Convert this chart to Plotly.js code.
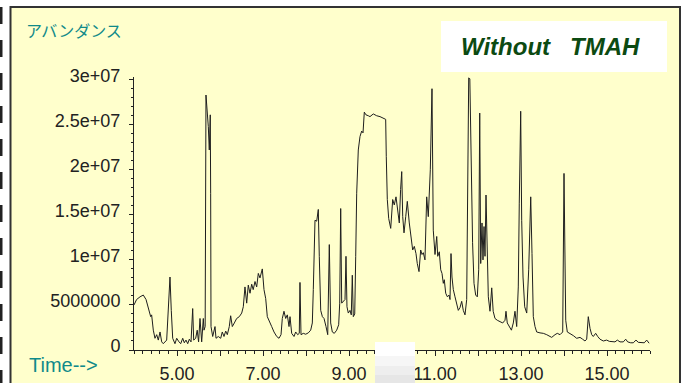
<!DOCTYPE html>
<html><head><meta charset="utf-8">
<script src="https://cdn.plot.ly/plotly-3.0.1.min.js"></script>
<style>html,body{margin:0;padding:0;background:#fff;}#chart{width:685px;height:383px;}</style>
</head><body><div id="chart"></div>
<script>
const retentionTime = [
4.00,4.06,4.14,4.216,4.28,4.333,4.388,4.41,4.449,4.488,4.528,4.565,4.605,4.644,4.681,4.76,4.795,4.837,4.867,4.90,
4.953,4.993,5.047,5.086,5.133,5.17,5.209,5.249,5.286,5.326,5.365,5.388,5.435,5.47,5.502,5.535,5.574,5.612,5.628,5.655,
5.674,5.705,5.728,5.751,5.774,5.783,5.791,5.83,5.86,5.884,5.907,5.96,6.016,6.053,6.093,6.133,6.17,6.216,6.248,6.286,
6.333,6.388,6.449,6.505,6.542,6.581,6.621,6.658,6.698,6.737,6.772,6.814,6.853,6.891,6.93,6.984,7.023,7.063,7.10,7.147,
7.202,7.256,7.319,7.372,7.419,7.449,7.488,7.528,7.565,7.605,7.628,7.667,7.721,7.76,7.807,7.844,7.86,7.884,7.937,7.993,
8.053,8.109,8.147,8.17,8.209,8.249,8.265,8.286,8.309,8.342,8.381,8.419,8.465,8.505,8.542,8.574,8.612,8.658,8.714,8.76,
8.784,8.807,8.83,8.867,8.907,8.93,8.953,8.984,9.023,9.053,9.077,9.10,9.133,9.156,9.179,9.216,9.256,9.295,9.326,9.356,
9.395,9.449,9.488,9.565,9.644,9.721,9.798,9.853,9.867,9.891,9.923,9.97,10.016,10.053,10.093,10.133,10.17,10.2,10.226,10.249,
10.279,10.319,10.356,10.402,10.442,10.481,10.519,10.558,10.588,10.628,10.667,10.698,10.728,10.767,10.807,10.844,10.891,10.93,10.96,11.0,
11.04,11.063,11.1,11.133,11.163,11.193,11.216,11.249,11.288,11.326,11.349,11.372,11.395,11.426,11.465,11.505,11.542,11.581,11.621,11.658,
11.698,11.737,11.76,11.784,11.81,11.842,11.874,11.907,11.946,11.984,12.016,12.04,12.063,12.093,12.116,12.14,12.163,12.186,12.216,12.24,
12.279,12.319,12.353,12.395,12.449,12.512,12.574,12.628,12.651,12.681,12.728,12.777,12.821,12.86,12.9,12.937,12.96,12.993,13.016,13.047,
13.086,13.133,13.179,13.226,13.256,13.286,13.326,13.365,13.442,13.519,13.598,13.674,13.714,13.791,13.844,13.907,13.97,14.0,14.04,14.077,
14.14,14.216,14.295,14.372,14.433,14.488,14.528,14.565,14.605,14.644,14.681,14.737,14.784,14.837,14.914,14.993,15.053,15.109,15.186,15.24,
15.302,15.379,15.435,15.481,15.551,15.612,15.674,15.728,15.807,15.867,15.923,15.98
];
const abundanceMillions = [
5.0,5.6,5.9,6.1,5.6,4.6,3.7,3.9,2.2,1.3,1.7,1.1,2.0,0.9,0.7,1.1,4.4,8.1,4.4,1.3,
0.7,1.3,0.9,0.7,1.3,0.8,1.1,0.7,1.2,0.9,4.6,1.1,1.3,2.2,0.9,3.5,0.9,3.5,2.2,2.6,
28.3,26.7,24.8,22.2,26.1,17.4,2.6,1.5,2.0,2.6,1.3,1.5,1.3,2.0,1.5,2.1,1.7,2.6,3.8,2.6,
3.0,3.5,3.7,4.1,4.8,7.0,5.2,7.2,6.3,7.3,6.7,7.6,7.0,8.5,8.0,9.0,6.7,5.7,3.7,3.1,
2.6,2.0,1.5,1.3,1.7,3.5,4.3,3.5,3.9,2.6,3.7,1.85,1.5,2.0,1.7,1.85,7.5,1.7,1.85,1.75,
1.9,2.2,3.0,6.7,14.4,14.3,14.8,15.6,10.4,4.4,3.7,3.5,2.6,1.7,11.7,3.0,2.0,1.85,2.2,2.8,
5.2,15.7,5.2,5.4,5.6,10.4,4.8,4.1,4.4,3.9,8.3,3.7,4.0,10.4,17.4,22.2,23.7,24.3,24.1,26.4,
26.1,26.0,25.9,26.2,26.0,25.9,25.7,25.6,21.5,16.7,14.6,13.5,16.7,16.1,17.0,15.7,14.1,17.8,19.8,14.8,
13.0,14.8,16.5,14.1,12.2,11.1,11.5,10.7,9.6,8.7,11.1,10.6,10.8,10.0,17.0,14.8,20.0,29.0,13.3,10.6,
12.6,10.4,10.9,8.9,8.5,7.4,7.8,6.3,5.9,6.1,5.6,10.7,8.1,6.7,5.9,5.2,4.4,4.7,5.4,4.4,
3.9,5.6,20.0,30.2,30.1,20.0,11.9,7.4,6.1,5.9,8.9,26.3,9.6,14.1,10.0,13.7,10.4,17.2,9.6,5.9,
4.3,6.9,4.3,3.5,3.3,3.1,3.0,3.3,4.3,3.0,2.6,2.2,3.0,4.3,2.6,7.0,16.3,26.5,14.4,8.1,
4.8,4.1,8.9,17.0,10.7,3.7,2.6,2.0,1.9,1.85,1.7,1.5,1.4,1.7,1.85,1.7,2.0,19.6,3.3,2.0,
1.85,1.6,1.3,1.4,1.2,1.0,1.2,3.7,2.4,1.7,1.5,1.85,1.5,1.2,1.0,1.1,0.96,0.9,0.9,1.1,
0.9,0.9,1.2,0.9,0.8,0.8,1.1,0.85,0.8,0.8,1.1,0.75
];
const yTickValues = [0, 5e6, 1e7, 1.5e7, 2e7, 2.5e7, 3e7];
const yTickLabels = ['0','5000000','1e+07','1.5e+07','2e+07','2.5e+07','3e+07'];
const xTickValues = [5,6,7,8,9,10,11,12,13,14,15];
const xTickLabels = ['5.00','','7.00','','9.00','','11.00','','13.00','','15.00'];
const yAxisLabel = 'アバンダンス';
const xAxisLabel = 'Time-->';
const chartTitle = 'Without\u00a0\u00a0\u00a0TMAH';

const abundance = abundanceMillions.map(v => v * 1e6);

// pixel -> paper helpers (plot area 134..650 x 77..350)
const L = 134, W = 516, B = 350, H = 273;
const px = x => (x - L) / W;
const py = y => (B - y) / H;

const trace = {
  x: retentionTime, y: abundance, type: 'scatter', mode: 'lines',
  line: {color: '#1e1e1e', width: 1.0}, hoverinfo: 'skip'
};

const tickFont = {family: 'Liberation Sans, Arial, sans-serif', size: 18, color: '#222'};

const layout = {
  width: 685, height: 383,
  margin: {l: L, r: 685 - L - W, t: B - H, b: 383 - B, pad: 0},
  paper_bgcolor: '#ffffff', plot_bgcolor: '#ffffcc',
  showlegend: false,
  xaxis: {
    range: [4, 16], showgrid: false, zeroline: false,
    showline: true, linecolor: '#222', linewidth: 1,
    tickmode: 'array', tickvals: xTickValues, ticktext: xTickLabels,
    ticks: 'outside', ticklen: 5, tickwidth: 1, tickcolor: '#222',
    tickfont: tickFont, ticklabelstandoff: 2,
    minor: {tickmode: 'linear', tick0: 4, dtick: 0.2, ticks: 'outside', ticklen: 3, tickwidth: 1, tickcolor: '#222'}
  },
  yaxis: {
    range: [0, 3.03e7], showgrid: false, zeroline: false,
    showline: true, linecolor: '#222', linewidth: 1,
    tickmode: 'array', tickvals: yTickValues, ticktext: yTickLabels,
    ticks: 'outside', ticklen: 4, tickwidth: 1, tickcolor: '#222',
    tickfont: tickFont, ticklabelshift: -4, ticklabelstandoff: 5,
    minor: {tickmode: 'linear', tick0: 0, dtick: 1e6, ticks: 'outside', ticklen: 2, tickwidth: 1, tickcolor: '#222'}
  },
  shapes: [
    {type: 'rect', xref: 'paper', yref: 'paper', x0: px(10.5), x1: px(680), y0: py(400), y1: py(7),
     fillcolor: '#ffffcc', line: {color: '#333', width: 2}, layer: 'below'},
    {type: 'line', xref: 'paper', yref: 'paper', x0: px(1), x1: px(1), y0: py(7), y1: py(400),
     line: {color: '#222', width: 3, dash: '17px,16px'}, layer: 'below'},
    {type: 'rect', xref: 'paper', yref: 'paper', x0: px(441), x1: px(667), y0: py(72), y1: py(21),
     fillcolor: '#ffffff', line: {width: 0}, layer: 'above'},
    {type: 'rect', xref: 'paper', yref: 'paper', x0: px(375), x1: px(415), y0: py(356), y1: py(342),
     fillcolor: '#ffffff', line: {width: 0}, layer: 'above'},
    {type: 'rect', xref: 'paper', yref: 'paper', x0: px(375), x1: px(415), y0: py(366), y1: py(356),
     fillcolor: '#f6f6f6', line: {width: 0}, layer: 'above'},
    {type: 'rect', xref: 'paper', yref: 'paper', x0: px(375), x1: px(415), y0: py(375), y1: py(366),
     fillcolor: '#eeeeee', line: {width: 0}, layer: 'above'},
    {type: 'rect', xref: 'paper', yref: 'paper', x0: px(375), x1: px(415), y0: py(390), y1: py(375),
     fillcolor: '#e6e6e6', line: {width: 0}, layer: 'above'}
  ],
  annotations: [
    {text: chartTitle, xref: 'paper', yref: 'paper', x: px(550), y: py(47), xanchor: 'center', yanchor: 'middle',
     showarrow: false, font: {family: 'Liberation Sans, Arial, sans-serif', size: 24, color: '#0c4a12', weight: 'bold', style: 'italic'}},
    {text: yAxisLabel, xref: 'paper', yref: 'paper', x: px(24), y: py(30), xanchor: 'left', yanchor: 'middle',
     showarrow: false, font: {family: 'Noto Sans CJK JP, sans-serif', size: 16, color: '#0f8a8a'}},
    {text: xAxisLabel, xref: 'paper', yref: 'paper', x: px(27), y: py(365), xanchor: 'left', yanchor: 'middle',
     showarrow: false, font: {family: 'Liberation Sans, Arial, sans-serif', size: 20, color: '#0f8a8a'}}
  ]
};

Plotly.newPlot('chart', [trace], layout, {staticPlot: true, displayModeBar: false});
</script>
</body></html>
